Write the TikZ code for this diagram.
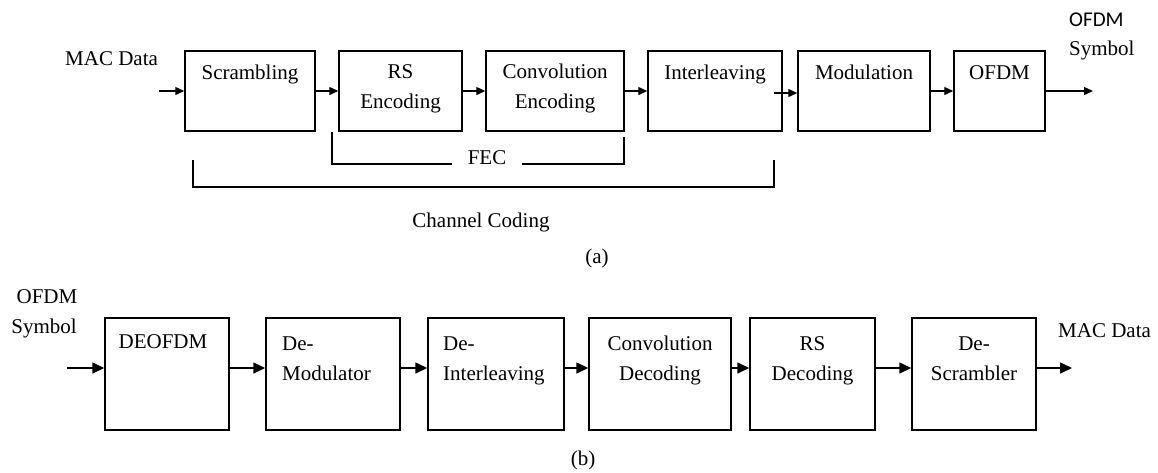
\documentclass[tikz,border=0pt]{standalone}
\usepackage{fontspec}
\setmainfont{Liberation Serif}
\newfontfamily\calib{Carlito}
\usetikzlibrary{arrows.meta}
\newcommand{\twol}[2]{\begin{tabular}[t]{@{}c@{}}#1\\#2\end{tabular}}
\newcommand{\twoleft}[2]{\begin{tabular}[t]{@{}l@{}}#1\\#2\end{tabular}}
\begin{document}
\begin{tikzpicture}[x=1pt,y=-1pt,
  font=\fontsize{21}{30}\selectfont,
  blk/.style={draw, line width=1.5pt, rectangle, inner sep=0pt},
  topblk/.style={blk, minimum height=80},
  botblk/.style={blk, minimum height=112},
  txt/.style={inner sep=0pt, anchor=base},
  txtl/.style={inner sep=0pt, anchor=base west},
  arr/.style={line width=1.4pt, -{Triangle[length=9,width=8]}},
  arrb/.style={line width=1.6pt, -{Triangle[length=12,width=11]}},
  brk/.style={line width=1.3pt}]
\useasboundingbox (0,0) rectangle (1158,472);

% ---------- (a) ----------
\node[topblk, minimum width=130] (scr) at (250,91) {};
\node[topblk, minimum width=123] (rs) at (400.5,91) {};
\node[topblk, minimum width=138] (conv) at (555,91) {};
\node[topblk, minimum width=134] (int) at (715,91) {};
\node[topblk, minimum width=132] (mod) at (864,91) {};
\node[topblk, minimum width=91] (ofdm) at (999.5,91) {};

\node[txt] (tscr) at (250,79) {Scrambling};
\node[txt] (trs) at (400.5,78) {\twol{RS}{Encoding}};
\node[txt] (tconv) at (555,78) {\twol{Convolution}{Encoding}};
\node[txt] (tint) at (715,79) {Interleaving};
\node[txt] (tmod) at (864,79) {Modulation};
\node[txt] (tofdm) at (999.5,79) {OFDM};

\node[txtl] (macin) at (65,65) {MAC Data};
\node[txtl] (ofdmout) at (1069,26) {\calib OFDM};
\node[txtl] (symout) at (1069,55) {Symbol};

\coordinate (in1) at (159,91);
\coordinate (out1) at (1093,91);
\draw[arr] (in1) -- (scr.west);
\draw[arr] (scr.east) -- (rs.west);
\draw[arr] (rs.east) -- (conv.west);
\draw[arr] (conv.east) -- (int.west);
\draw[arr] ([yshift=-2pt,xshift=-9pt]int.east) -- ([yshift=-2pt]mod.west);
\draw[arr] (mod.east) -- (ofdm.west);
\draw[arr] (ofdm.east) -- (out1);

% FEC bracket
\node[txt] (fec) at (487,164) {FEC};
\coordinate (f1) at (332,132);
\coordinate (f2) at (332,164);
\coordinate (f3) at (452,164);
\coordinate (f4) at (522,164);
\coordinate (f5) at (624,164);
\coordinate (f6) at (624,137);
\draw[brk] (f1) -- (f2) -- (f3);
\draw[brk] (f4) -- (f5) -- (f6);

% Channel coding bracket
\coordinate (c1) at (193,160);
\coordinate (c2) at (193,187);
\coordinate (c3) at (774,187);
\coordinate (c4) at (774,160);
\draw[brk] (c1) -- (c2) -- (c3) -- (c4);
\node[txt] (cc) at (481,227) {Channel Coding};
\node[txt] (capa) at (597,263) {(a)};

% ---------- (b) ----------
\node[botblk, minimum width=124] (deofdm) at (167,374) {};
\node[botblk, minimum width=134] (demod) at (333,374) {};
\node[botblk, minimum width=136] (deint) at (496,374) {};
\node[botblk, minimum width=142] (cdec) at (660,374) {};
\node[botblk, minimum width=125] (rsdec) at (812.5,374) {};
\node[botblk, minimum width=124] (descr) at (974,374) {};

\node[txt] (tdeofdm) at (163,348) {DEOFDM};
\node[txtl] (tdemod) at (282,350) {\twoleft{De-}{Modulator}};
\node[txtl] (tdeint) at (443,350) {\twoleft{De-}{Interleaving}};
\node[txt] (tcdec) at (660,350) {\twol{Convolution}{Decoding}};
\node[txt] (trsdec) at (812.5,350) {\twol{RS}{Decoding}};
\node[txt] (tdescr) at (974,350) {\twol{De-}{Scrambler}};

\node[txt] (ofdmin) at (47,303) {OFDM};
\node[txt] (symin) at (44,333) {Symbol};
\node[txtl] (macout) at (1058,337) {MAC Data};

\coordinate (in2) at (67,368);
\coordinate (out2) at (1072,368);
\draw[arrb] (in2) -- (deofdm.west |- in2);
\draw[arrb] (deofdm.east |- in2) -- (demod.west |- in2);
\draw[arrb] (demod.east |- in2) -- (deint.west |- in2);
\draw[arrb] (deint.east |- in2) -- (cdec.west |- in2);
\draw[arrb] (cdec.east |- in2) -- (rsdec.west |- in2);
\draw[arrb] (rsdec.east |- in2) -- (descr.west |- in2);
\draw[arrb] (descr.east |- in2) -- (out2);

\node[txt] (capb) at (583,465) {(b)};
\end{tikzpicture}
\end{document}
